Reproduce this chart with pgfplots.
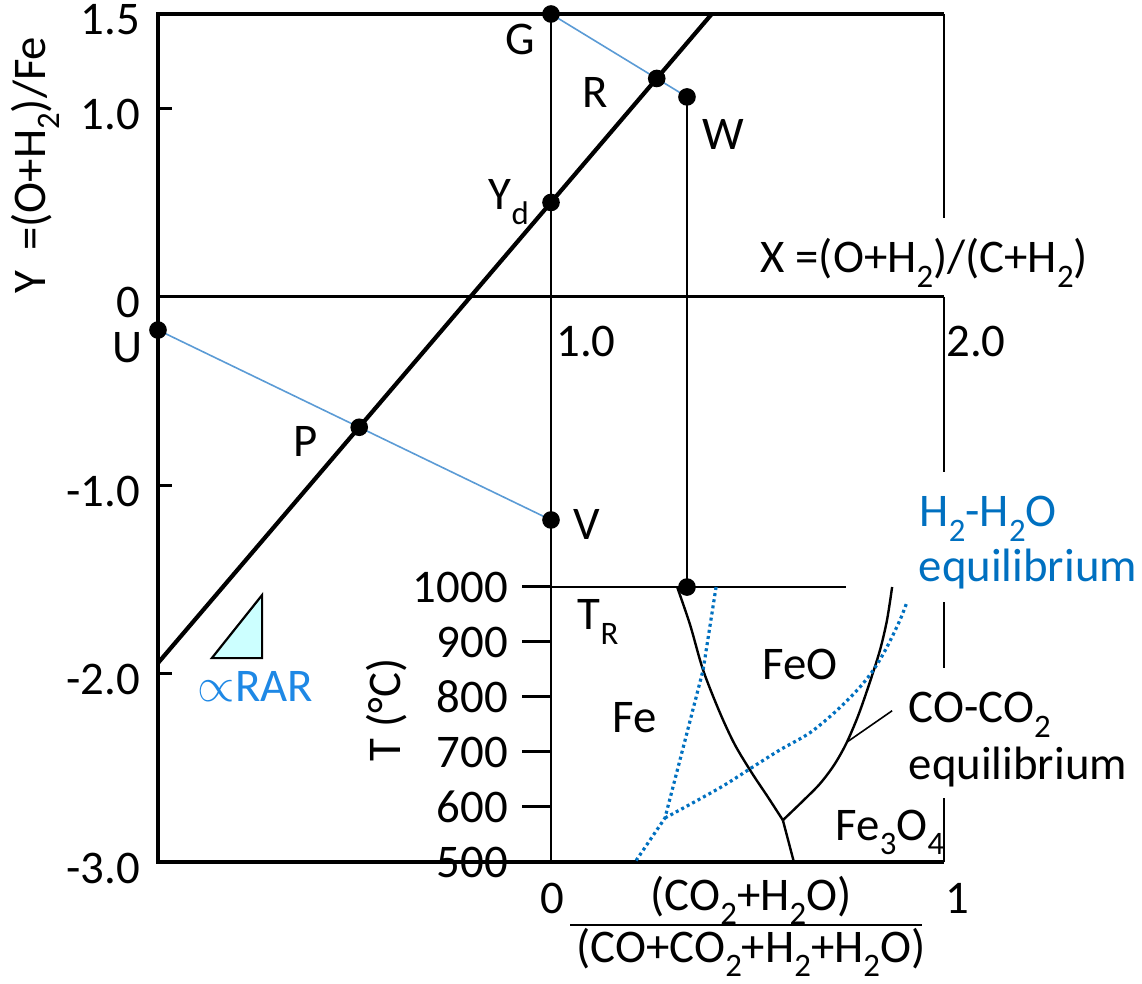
\documentclass[border=0pt]{standalone}
\usepackage{pgfplots}
\pgfplotsset{compat=1.18}
\usepackage{fontspec}
\setmainfont{Carlito}
\definecolor{dblue}{HTML}{0070C0}
\definecolor{lblue}{HTML}{5B9BD5}
\definecolor{rblue}{HTML}{1E88E5}
\definecolor{tri}{HTML}{CCFFFF}
\newcommand\fs{\fontsize{11.7}{14}\selectfont}
\newcommand\sub[1]{\raisebox{-0.3em}{\fontsize{8.2}{8}\selectfont #1}}
\begin{document}
\begin{tikzpicture}[font=\fs]
% ---------------- main Rist diagram ----------------
\begin{axis}[
  at={(0pt,0pt)}, anchor=south west, scale only axis,
  width=196.5pt, height=212pt,
  xmin=0, xmax=2, ymin=-3, ymax=1.5,
  axis line style={draw=none},
  xtick=\empty,
  ytick={-3,-2,-1,0,1,1.5},
  yticklabels={-3.0,-2.0,-1.0,0,1.0,1.5},
  ytick pos=left, tick align=inside,
  major tick length=3.5pt,
  tick style={line width=0.75pt, black},
  yticklabel style={font=\fs, yshift=-1.5pt, xshift=-1pt},
  clip=false,
]
% frame
\addplot[black, line width=0.85pt] coordinates {(2,1.5) (0,1.5) (0,-3) (2,-3)};
\addplot[black, line width=0.6pt] coordinates {(2,1.5) (2,0.418)};
\addplot[black, line width=0.6pt] coordinates {(2,0) (2,-0.930)};
\addplot[black, line width=0.6pt] coordinates {(2,-1.621) (2,-1.971)};
\addplot[black, line width=0.6pt] coordinates {(2,-2.661) (2,-3)};
% inward ticks
\addplot[black, line width=0.75pt] coordinates {(0,1) (0.036,1)};
\addplot[black, line width=0.75pt] coordinates {(0,-1) (0.036,-1)};
\addplot[black, line width=0.75pt] coordinates {(0,-2) (0.036,-2)};
% X axis (Y=0) and verticals
\addplot[black, line width=0.6pt] coordinates {(0,0) (2,0)};
\addplot[black, line width=0.55pt] coordinates {(1,1.5) (1,-3)};
\addplot[black, line width=0.55pt] coordinates {(1.346,1.060) (1.346,-1.541)};
% blue construction lines
\addplot[lblue, line width=0.4pt] coordinates {(1,1.5) (1.346,1.060)};
\addplot[lblue, line width=0.4pt] coordinates {(0,-0.177) (1,-1.185)};
% operating line
\addplot[black, line width=1.05pt] coordinates {(0,-1.944) (1.409,1.5)};
% RAR triangle
\addplot[fill=tri, draw=black, line width=0.55pt] coordinates {(0.137,-1.918) (0.265,-1.583) (0.265,-1.918)} --cycle;
% points
\addplot[only marks, mark=*, mark size=2pt, black] coordinates {
 (1,1.5) (1.269,1.158) (1.346,1.060) (1,0.50) (0,-0.177) (0.512,-0.693) (1,-1.185) (1.346,-1.541)};
\end{axis}
% ---------------- inset Fe-O-C-H equilibrium diagram ----------------
\begin{axis}[
  at={(98.25pt,0pt)}, anchor=south west, scale only axis,
  width=98.25pt, height=68.75pt,
  xmin=0, xmax=1, ymin=500, ymax=1000,
  axis line style={draw=none},
  xtick=\empty,
  ytick={500,600,700,800,900,1000},
  yticklabels={500,600,700,800,900,1000},
  ytick pos=left, tick align=outside,
  major tick length=7.25pt,
  tick style={line width=0.75pt, black},
  yticklabel style={font=\fs},
  clip=false,
]
\addplot[black, line width=0.4pt] coordinates {(0,1000) (0.751,1000)};
% CO-CO2 (black)
\addplot[black, line width=0.6pt, smooth] coordinates {
 (0.321,1000) (0.354,931) (0.387,849) (0.430,771) (0.468,713) (0.511,662) (0.552,618) (0.590,576)};
\addplot[black, line width=0.6pt] coordinates {(0.590,576) (0.618,500)};
\addplot[black, line width=0.6pt, smooth] coordinates {
 (0.590,576) (0.641,611) (0.684,642) (0.720,676) (0.751,715) (0.781,765) (0.809,822) (0.837,885) (0.855,940) (0.868,1000)};
\addplot[black, line width=0.4pt] coordinates {(0.753,718) (0.868,775)};
% H2-H2O (blue dotted)
\addplot[dblue, line width=0.8pt, dash pattern=on 0.75pt off 0.8pt] coordinates {
 (0.420,1000) (0.387,849) (0.346,735) (0.290,580) (0.214,500)};
\addplot[dblue, line width=0.8pt, dash pattern=on 0.75pt off 0.8pt, smooth] coordinates {
 (0.290,580) (0.430,635) (0.514,673) (0.583,704) (0.659,735) (0.728,776) (0.786,818) (0.824,853) (0.855,891) (0.888,940) (0.906,973)};
\end{axis}
% ---------------- text ----------------
\begin{scope}[x=0.25pt, y=-0.25pt, shift={(-158,-862)}, every node/.style={inner sep=0pt}]
\node[rotate=90, anchor=base] at (45,165) {Y\hspace{0.42em}=(O+H\sub2)/Fe};
\node[anchor=base west] at (760,273) {X =(O+H\sub2)/(C+H\sub2)};
\node at (586,342) {1.0};
\node at (976,342) {2.0};
\node[anchor=base west] at (505,55) {G};
\node[anchor=base west] at (582,108) {R};
\node[anchor=base west] at (702,150) {W};
\node[anchor=base west] at (488,210) {Y\sub{d}};
\node[anchor=base west] at (112,363) {U};
\node[anchor=base west] at (293,457) {P};
\node[anchor=base west] at (573,540) {V};
\node[anchor=base west, text=rblue] at (197,702) {$\propto$RAR};
\node[anchor=base west] at (577,630) {T\sub{R}};
\node[anchor=base west] at (612,733) {Fe};
\node[anchor=base west] at (762,680) {FeO};
\node[anchor=base west] at (835,840) {Fe\sub3O\sub4};
\node[anchor=base west] at (908,723) {CO-CO\sub2};
\node[anchor=base west] at (908,780) {equilibrium};
\node[anchor=base west, text=dblue] at (919,527) {H\sub2-H\sub2O};
\node[anchor=base west, text=dblue] at (918,582) {equilibrium};
\node[rotate=90, anchor=base] at (400,710) {T (°C)};
\node[anchor=base west] at (540,913) {0};
\node[anchor=base west] at (945,913) {1};
\node[anchor=base] at (751,910) {(CO\sub2+H\sub2O)};
\node[anchor=base] at (751,962) {(CO+CO\sub2+H\sub2+H\sub2O)};
\draw[line width=0.5pt] (570,925) -- (922,925);
\end{scope}
\pgfresetboundingbox
\begin{scope}[x=0.25pt, y=-0.25pt, shift={(-158,-862)}]
\path (0,0) rectangle (1142,983);
\end{scope}
\end{tikzpicture}
\end{document}
